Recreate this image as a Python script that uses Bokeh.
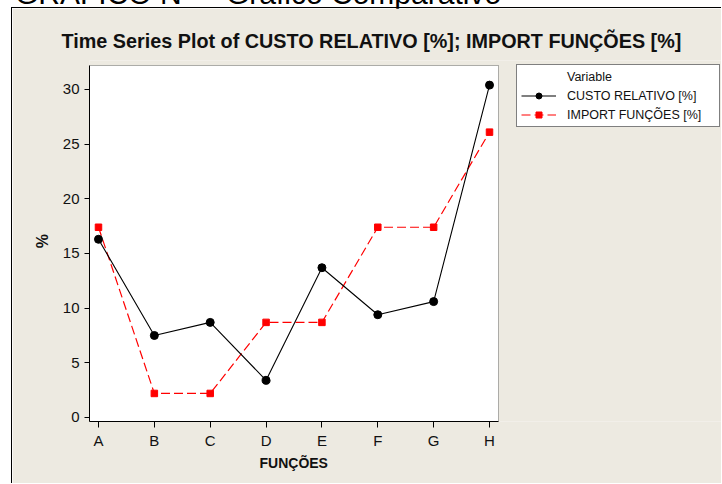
from bokeh.plotting import figure
from bokeh.models import (Range1d, FixedTicker, Legend, LegendItem, Title,
                          InlineStyleSheet, BoxAnnotation)
from bokeh.embed import file_html
from bokeh.resources import INLINE

# ---- data ----
categories = ["A", "B", "C", "D", "E", "F", "G", "H"]
custo_relativo = [16.3, 7.5, 8.7, 3.4, 13.7, 9.4, 10.6, 30.4]
import_funcoes = [17.4, 2.2, 2.2, 8.7, 8.7, 17.4, 17.4, 26.1]
y_ticks = [0, 5, 10, 15, 20, 25, 30]

page_heading = "GRÁFICO Nº – Gráfico Comparativo"
title_text = "Time Series Plot of CUSTO RELATIVO [%]; IMPORT FUNÇÕES [%]"
x_label = "FUNÇÕES"
y_label = "%"
legend_title = "Variable"
series_names = ["CUSTO RELATIVO [%]", "IMPORT FUNÇÕES [%]"]

x_pos = list(range(1, len(categories) + 1))

# plotting area limits (data units) and the extra room kept for the legend
X0, X1 = 0.839, 8.161
Y0, Y1 = -0.366, 32.195
X_FRAME_END = 12.171
Y_FRAME_END = 32.652

BG = "#EDEAE1"
FONT = "Liberation Sans"

p = figure(width=710, height=476, output_backend="svg", toolbar_location=None,
           x_range=Range1d(X0, X_FRAME_END), y_range=Range1d(Y0, Y_FRAME_END),
           min_border_left=77, min_border_right=0, min_border_top=52,
           min_border_bottom=63,
           background_fill_color=BG, border_fill_color=BG,
           outline_line_color=None)
p.styles = {"border-left": "1px solid black", "border-top": "1px solid black",
            "margin-left": "11px", "margin-top": "7px",
            "position": "relative", "overflow": "visible"}
# page heading above the chart: only its lower edge shows in the reference
p.stylesheets = [InlineStyleSheet(css=(
    ":host::before { content: '" + page_heading + "'; position: absolute; "
    "left: 3px; top: -29px; font-family: '" + FONT + "'; font-size: 30px; "
    "line-height: 30px; white-space: nowrap; color: #000; }"))]

# white plotting area with its black outline
p.add_layout(BoxAnnotation(left=X0, right=X1, bottom=Y0, top=Y1,
                           fill_color="white", fill_alpha=1,
                           line_color="black", line_width=1, level="underlay"))

p.xgrid.visible = False
p.ygrid.visible = False

# title
p.title.text = title_text
p.title.align = "left"
p.title.offset = -28
p.title.standoff = 18
p.title.text_font = FONT
p.title.text_font_size = "19.8px"
p.title.text_font_style = "bold"
p.title.text_color = "#111111"

# axes
p.xaxis.ticker = FixedTicker(ticks=x_pos)
p.xaxis.major_label_overrides = {x: c for x, c in zip(x_pos, categories)}
p.yaxis.ticker = FixedTicker(ticks=y_ticks)
p.xaxis.bounds = (X0, X1)
p.yaxis.bounds = (Y0, Y1)
for ax, tick_out in ((p.xaxis, 6), (p.yaxis, 5)):
    ax.axis_line_color = "black"
    ax.major_tick_line_color = "black"
    ax.major_tick_out = tick_out
    ax.major_tick_in = 0
    ax.minor_tick_out = 0
    ax.minor_tick_in = 0
    ax.major_label_text_font = FONT
    ax.major_label_text_font_size = "15px"
    ax.major_label_text_color = "#111111"
    ax.axis_label_text_font = FONT
    ax.axis_label_text_font_style = "bold"
    ax.axis_label_text_color = "#111111"

p.xaxis.major_label_standoff = 4
p.yaxis.major_label_standoff = 5
p.yaxis.axis_label = y_label
p.yaxis.axis_label_text_font_size = "16px"
p.yaxis.axis_label_standoff = 9

# x-axis name, centred under the plotting area
p.add_layout(Title(text=x_label, align="left", offset=170, standoff=2,
                   text_font=FONT, text_font_size="14px",
                   text_font_style="bold", text_color="#111111"), "below")

# series
r2l = p.line(x_pos, import_funcoes, line_color="#FF0000", line_width=1.2,
             line_dash="9 4")
r2s = p.scatter(x_pos, import_funcoes, marker="square", size=6.5,
                fill_color="#FF0000", line_color="#FF0000")
r1l = p.line(x_pos, custo_relativo, line_color="black", line_width=1.1)
r1s = p.scatter(x_pos, custo_relativo, marker="circle", size=8,
                fill_color="black", line_color="black")
r0 = p.line(x=[], y=[], line_alpha=0)

legend = Legend(items=[LegendItem(label=legend_title, renderers=[r0]),
                       LegendItem(label=series_names[0], renderers=[r1l, r1s]),
                       LegendItem(label=series_names[1], renderers=[r2l, r2s])],
                location=(427, 294), padding=4, spacing=4, margin=0,
                glyph_width=35, glyph_height=15, label_height=15,
                label_width=148, label_standoff=11,
                label_text_font=FONT, label_text_font_size="12.5px",
                label_text_color="#111111",
                border_line_color="black", border_line_width=1,
                background_fill_color="white", background_fill_alpha=1)
p.add_layout(legend)

open("out.html", "w").write(file_html(p, INLINE))
